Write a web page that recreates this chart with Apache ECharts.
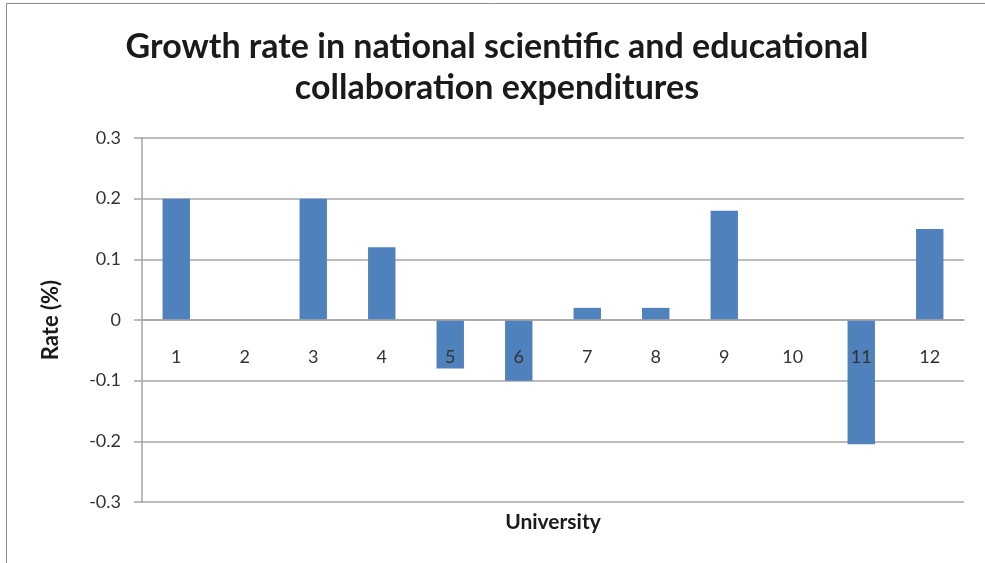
<!DOCTYPE html>
<html>
<head>
<meta charset="utf-8">
<script src="https://cdn.jsdelivr.net/npm/echarts@6/dist/echarts.min.js"></script>
<style>
html,body{margin:0;padding:0;background:#fff;}
#chart{width:985px;height:563px;}
</style>
</head>
<body>
<div id="chart"></div>
<script>
const categories = ['1','2','3','4','5','6','7','8','9','10','11','12'];
const rates = [0.2, 0, 0.2, 0.12, -0.08, -0.1, 0.02, 0.02, 0.18, 0, -0.205, 0.15];
const yTicks = {min: -0.3, max: 0.3, interval: 0.1};
const titleText = 'Growth rate in national scientific and educational\ncollaboration expenditures';
const xName = 'University';
const yName = 'Rate (%)';

const W = 985, H = 563;
const gridBox = {left: 142, right: 21, top: 138, bottom: 61};
const gridH = H - gridBox.top - gridBox.bottom;
// place the category axis at the zero line of the value axis
const zeroOffset = -gridH * (0 - yTicks.min) / (yTicks.max - yTicks.min);

const chart = echarts.init(document.getElementById('chart'), null, {renderer: 'canvas'});
const font = 'Lato, "Open Sans", sans-serif';
chart.setOption({
  animation: false,
  backgroundColor: '#fff',
  title: {
    text: titleText,
    left: 492, top: 22, textAlign: 'center',
    textStyle: {fontFamily: font, fontSize: 34, fontWeight: 'bold', color: '#1a1a1a', lineHeight: 41}
  },
  graphic: [
    {type: 'line', shape: {x1: 6, y1: 3.5, x2: 985, y2: 3.5}, style: {stroke: '#8c8c8c', lineWidth: 1}},
    {type: 'line', shape: {x1: 6.5, y1: 3, x2: 6.5, y2: 563}, style: {stroke: '#8c8c8c', lineWidth: 1}}
  ],
  grid: Object.assign({containLabel: false, outerBoundsMode: 'none'}, gridBox),
  xAxis: {
    type: 'category',
    data: categories,
    offset: zeroOffset,
    z: 10,
    name: xName,
    nameLocation: 'middle',
    nameGap: 192,
    nameTextStyle: {fontFamily: font, fontSize: 21, fontWeight: 'bold', color: '#1a1a1a'},
    axisLine: {onZero: false, lineStyle: {color: '#a6a6a6', width: 1.5}},
    axisTick: {show: false},
    axisLabel: {margin: 28, fontFamily: font, fontSize: 18, color: '#333'},
    splitLine: {show: false}
  },
  yAxis: {
    type: 'value',
    min: yTicks.min, max: yTicks.max, interval: yTicks.interval,
    name: yName,
    nameLocation: 'middle',
    nameGap: 80,
    nameTextStyle: {fontFamily: font, fontSize: 22, fontWeight: 'bold', color: '#1a1a1a'},
    axisLine: {show: true, lineStyle: {color: '#a6a6a6', width: 1.5}},
    axisTick: {show: true, length: 8, lineStyle: {color: '#a6a6a6', width: 1.5}},
    axisLabel: {margin: 21, fontFamily: font, fontSize: 18, color: '#333',
      formatter: v => String(+v.toFixed(1))},
    splitLine: {show: true, lineStyle: {color: '#a6a6a6', width: 1.5}}
  },
  series: [{
    type: 'bar',
    data: rates,
    barWidth: '40%',
    itemStyle: {color: '#4f81bd'}
  }]
});
</script>
</body>
</html>
